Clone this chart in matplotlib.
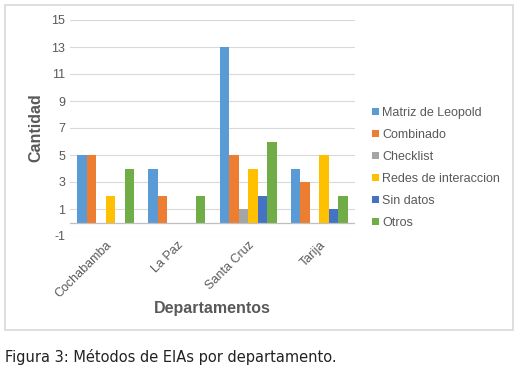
import matplotlib.pyplot as plt
import numpy as np
from matplotlib.patches import Rectangle

departamentos = ['Cochabamba', 'La Paz', 'Santa Cruz', 'Tarija']
metodos = ['Matriz de Leopold', 'Combinado', 'Checklist',
           'Redes de interaccion', 'Sin datos', 'Otros']
leopold = [5, 4, 13, 4]
combinado = [5, 2, 5, 3]
checklist = [0, 0, 1, 0]
redes = [2, 0, 4, 5]
sin_datos = [0, 0, 2, 1]
otros = [4, 2, 6, 2]
series = [leopold, combinado, checklist, redes, sin_datos, otros]
colors = ['#5B9BD5', '#ED7D31', '#A5A5A5', '#FFC000', '#4472C4', '#70AD47']
yticks = [-1, 1, 3, 5, 7, 9, 11, 13, 15]

plt.rcParams['font.family'] = ['Liberation Sans', 'DejaVu Sans']
plt.rcParams['axes.unicode_minus'] = False

fig = plt.figure(figsize=(5.24, 3.69), dpi=100)
ax = fig.add_axes([70 / 524, 1 - 236 / 369, 285 / 524, 216 / 369])

# chart frame
fig.patches.append(Rectangle((5 / 524, 1 - 330 / 369), 508 / 524, 325 / 369,
                             transform=fig.transFigure, fill=False,
                             edgecolor='#d9d9d9', linewidth=1.2))

x = np.arange(len(departamentos))
width = 0.8 / len(series)
for i, (vals, name, c) in enumerate(zip(series, metodos, colors)):
    ax.bar(x - 0.4 + width * (i + 0.5), vals, width, color=c, label=name)

ax.set_xlim(-0.5, len(departamentos) - 0.5)
ax.set_ylim(-1, 15)
ax.set_yticks(yticks)
ax.grid(axis='y', color='#d9d9d9', linewidth=0.8)
ax.set_axisbelow(True)
ax.axhline(0, color='#bfbfbf', linewidth=0.9, zorder=1)
for s in ax.spines.values():
    s.set_visible(False)
ax.tick_params(length=0, colors='#595959', labelsize=9)
ax.tick_params(axis='x', pad=2)
ax.set_xticks(x)
ax.set_xticklabels(departamentos, rotation=45, ha='right',
                   rotation_mode='anchor')
ax.set_ylabel('Cantidad', fontsize=11.5, fontweight='bold', color='#595959',
              labelpad=6)
ax.set_xlabel('Departamentos', fontsize=11.5, fontweight='bold',
              color='#595959', labelpad=1)

ax.legend(loc='center left', bbox_to_anchor=(1.02, 0.315), frameon=False,
          fontsize=9, handlelength=0.55, handleheight=0.55,
          handletextpad=0.25, labelspacing=0.8, labelcolor='#595959')

fig.text(5 / 524, 1 - 357 / 369, 'Figura 3: Métodos de EIAs por departamento.',
         fontsize=10.5, family='DejaVu Sans', va='center', color='#222222')

fig.savefig('out.png', dpi=100)
